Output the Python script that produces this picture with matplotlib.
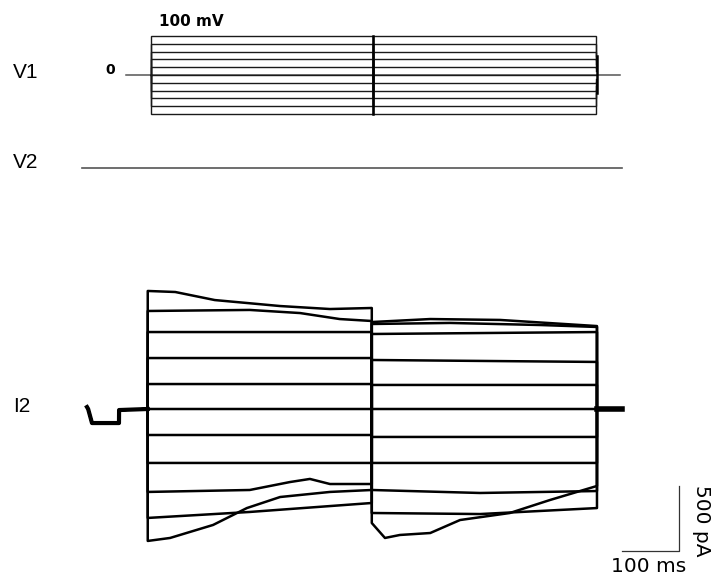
import matplotlib
matplotlib.use("Agg")
import matplotlib.pyplot as plt

# ---------------- data (times in ms, voltages in mV, currents in pA) ----------------
v1_levels = [100, 80, 60, 40, 20, 0, -20, -40, -60, -80, -100]
v1_tail = [-46, -38, -29, -19, -10, 0, 10, 19, 29, 38, 48]   # brief tail after 2nd step
v1_times = [68, 111, 499, 888, 891, 930]

v2_times = [-9, 934]
v2_values = [0, 0]

# I2 pre-step baseline shared by all sweeps
pre_t = [0, 2, 8.7, 55.8, 56, 106]
pre_i = [15, 0, -108, -108, -8, 0]
post_t = [890, 934]
post_i = [0, 0]

# first step segment, one list per sweep (+100 ... -100 mV)
seg1_t = [
    [106, 154, 223, 337, 424, 497],
    [106, 284, 372, 441, 497],
    [106, 497],
    [106, 497],
    [106, 497],
    [106, 497],
    [106, 497],
    [106, 497],
    [106, 284, 354, 389, 424, 497],
    [106, 284, 497],
    [106, 145, 220, 279, 337, 424, 497],
]
seg1_i = [
    [908, 900, 838, 792, 769, 777],
    [754, 762, 738, 692, 677],
    [592, 592],
    [392, 392],
    [192, 192],
    [0, 0],
    [-200, -200],
    [-415, -415],
    [-638, -623, -562, -538, -577, -577],
    [-838, -792, -723],
    [-1015, -992, -892, -762, -677, -638, -623],
]

# second step segment, listed top to bottom as seen
seg2_t = [
    [497, 599, 721, 890],
    [497, 634, 791, 890],
    [497, 890],
    [497, 890],
    [497, 890],
    [497, 890],
    [497, 890],
    [497, 890],
    [497, 686, 890],
    [497, 686, 890],
    [497, 520, 546, 599, 651, 738, 808, 890],
]
seg2_i = [
    [669, 692, 685, 638],
    [654, 662, 646, 631],
    [577, 592],
    [377, 362],
    [185, 185],
    [0, 0],
    [-215, -215],
    [-415, -415],
    [-623, -646, -631],
    [-800, -808, -762],
    [-877, -992, -969, -954, -854, -800, -700, -592],
]

scale_ms = 100
scale_pA = 500

# ---------------- layout ----------------
W, H = 718, 582
fig = plt.figure(figsize=(W / 100, H / 100), dpi=100)
XL = (-151.83, 1101.2)          # ms across the whole figure width


def make_ax(y0_px, px_per_unit):
    ax = fig.add_axes([0, 0, 1, 1])
    ax.patch.set_alpha(0)
    ax.set_xlim(*XL)
    ax.set_ylim((y0_px - H) / px_per_unit, y0_px / px_per_unit)
    ax.axis("off")
    return ax


ax_v1 = make_ax(75, 0.39)
ax_v2 = make_ax(167.5, 0.39)
ax_i2 = make_ax(409, 0.13)

# V1 command steps
t0, ton, tmid, toff, ttail, tend = v1_times
ax_v1.plot([t0, tend], [0, 0], color="#555555", lw=1.1)
for v, tail in zip(v1_levels, v1_tail):
    ts = [ton, ton, tmid, tmid, toff, toff]
    vs = [0, v, v, -v, -v, tail]
    ax_v1.plot(ts, vs, color="#1a1a1a", lw=1.0, solid_joinstyle="miter")
ax_v1.plot([tmid, tmid], [v1_levels[-1], v1_levels[0]], color="black", lw=1.8)
ax_v1.plot([ttail - 1.5, ttail - 1.5], [v1_tail[0], v1_tail[-1]], color="black", lw=1.8)

# V2
ax_v2.plot(v2_times, v2_values, color="#555555", lw=1.2)

# I2 current sweeps
n = len(v1_levels)
for k in range(n):
    j = n - 1 - k
    ts = pre_t + seg1_t[k] + seg2_t[j] + post_t
    cs = pre_i + seg1_i[k] + seg2_i[j] + post_i
    ax_i2.plot(ts, cs, color="black", lw=1.8)
# baseline segments overlap for every sweep -> heavier
ax_i2.plot(pre_t, pre_i, color="black", lw=3.0)
ax_i2.plot(post_t, post_i, color="black", lw=4.0)

# scale bars
sx0 = 933.2
sy0 = -1092
ax_i2.plot([sx0, sx0 + scale_ms, sx0 + scale_ms],
           [sy0, sy0, sy0 + scale_pA], color="#333333", lw=0.9)

# ---------------- text ----------------
def ftxt(x, y, s, **kw):
    fig.text(x / W, 1 - y / H, s, **kw)


lab = dict(family="Liberation Sans", fontsize=15, va="center", ha="left")
ftxt(13, 73, "V1", **lab)
ftxt(13, 162, "V2", **lab)
ftxt(13, 407, "I2", **lab)
ftxt(110.5, 70, "0", family="DejaVu Sans", fontweight="bold", fontsize=10,
     ha="center", va="center")
ftxt(191, 22, "100 mV", family="DejaVu Sans", fontweight="bold", fontsize=11,
     ha="center", va="center")
ftxt(649, 567, f"{scale_ms} ms", family="DejaVu Sans", fontsize=14.5,
     ha="center", va="center")
ftxt(702, 521, f"{scale_pA} pA", family="DejaVu Sans", fontsize=14.5,
     ha="center", va="center", rotation=270)

fig.savefig("out.png", dpi=100)
